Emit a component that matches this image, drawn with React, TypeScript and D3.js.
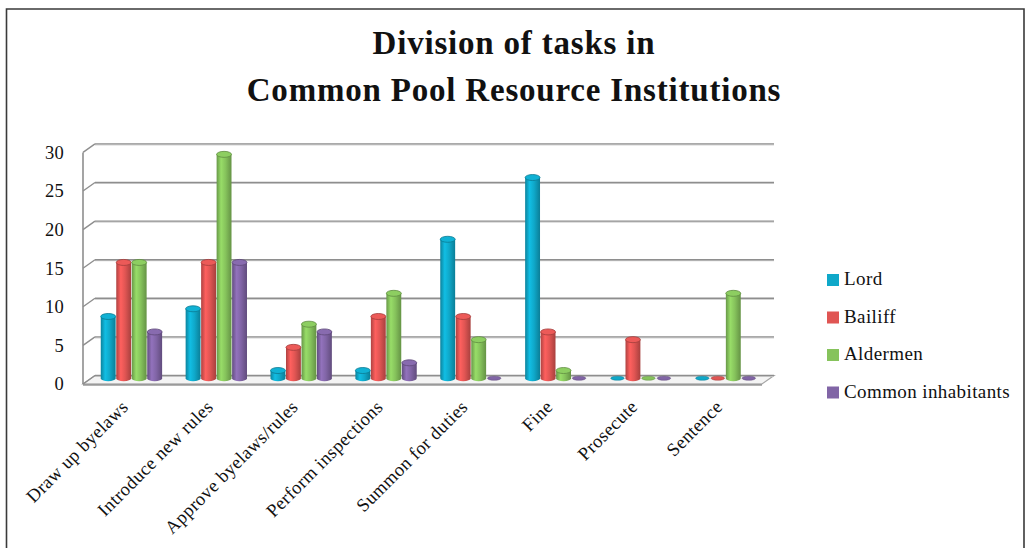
import React from "react";
import * as d3 from "d3";

// Task categories along the floor of the chart
const tasks = [
  "Draw up byelaws",
  "Introduce new rules",
  "Approve byelaws/rules",
  "Perform inspections",
  "Summon for duties",
  "Fine",
  "Prosecute",
  "Sentence",
];

// Actors (one cylinder per actor in every task group)
const actors = ["Lord", "Bailiff", "Aldermen", "Common inhabitants"];

// Number of institutions assigning each task to each actor
const lordValues = [8, 9, 1, 1, 18, 26, 0, 0];
const bailiffValues = [15, 15, 4, 8, 8, 6, 5, 0];
const aldermenValues = [15, 29, 7, 11, 5, 1, 0, 11];
const commonValues = [6, 15, 6, 2, 0, 0, 0, 0];

const yTicks = [0, 5, 10, 15, 20, 25, 30];

const seriesValues = [lordValues, bailiffValues, aldermenValues, commonValues];
const colors = ["#0fa8c9", "#e05553", "#86c35c", "#8165a6"];

const W = 1026;
const H = 548;
const FONT = "'Liberation Serif', 'Times New Roman', serif";

// Front plane of the 3D plot box and the depth offset of the back wall
const frontLeft = 83;
const frontRight = 762;
const depthX = 12;
const depthY = -8.5;

export default function App() {
  const x = d3
    .scaleBand<string>()
    .domain(tasks)
    .range([frontLeft, frontRight])
    .paddingInner(0.27)
    .paddingOuter(0.135);
  const xs = d3
    .scaleBand<string>()
    .domain(actors)
    .range([0, x.bandwidth()]);
  const y = d3.scaleLinear().domain([0, 30]).range([384, 152.4]);

  const groupCenter = (t: string) => (x(t) as number) + x.bandwidth() / 2;
  const bw = xs.bandwidth();
  const ry = 3;

  const backLeft = frontLeft + depthX;
  const backRight = frontRight + depthX;

  return (
    <svg
      width={W}
      height={H}
      style={{ position: "absolute", left: 0, top: 0, background: "#fff" }}
      fontFamily={FONT}
    >
      <defs>
        {colors.map((c, i) => {
          const base = d3.color(c)!;
          return (
            <linearGradient key={i} id={`cyl${i}`} x1="0" x2="1" y1="0" y2="0">
              <stop offset="0" stopColor={base.darker(0.7).formatHex()} />
              <stop offset="0.3" stopColor={base.brighter(0.35).formatHex()} />
              <stop offset="0.6" stopColor={c} />
              <stop offset="1" stopColor={base.darker(0.8).formatHex()} />
            </linearGradient>
          );
        })}
      </defs>

      {/* outer frame */}
      <path
        d={`M6.5,${H + 2} L6.5,9 L1024,9 L1024,${H + 2}`}
        fill="none"
        stroke="#3a3a3a"
        strokeWidth={1.6}
      />

      {/* title */}
      <text
        x={514}
        y={54}
        textAnchor="middle"
        fontSize={33}
        fontWeight="bold"
        letterSpacing={0.8}
        fill="#111"
      >
        Division of tasks in
      </text>
      <text
        x={514}
        y={101}
        textAnchor="middle"
        fontSize={33}
        fontWeight="bold"
        letterSpacing={0.8}
        fill="#111"
      >
        Common Pool Resource Institutions
      </text>

      {/* floor */}
      <path
        d={`M${frontLeft},${y(0)} L${frontRight},${y(0)} L${backRight},${
          y(0) + depthY
        } L${backLeft},${y(0) + depthY} Z`}
        fill="#f4f4f4"
        stroke="#a6a6a6"
        strokeWidth={1.2}
      />
      <line
        x1={frontLeft}
        x2={frontRight}
        y1={y(0) + 0.8}
        y2={y(0) + 0.8}
        stroke="#9a9a9a"
        strokeWidth={2}
      />

      {/* back wall gridlines and left wall */}
      {yTicks.map((t) => (
        <g key={t}>
          <line
            x1={backLeft}
            x2={backRight}
            y1={y(t) + depthY + 1}
            y2={y(t) + depthY + 1}
            stroke="#d4d4d4"
            strokeWidth={1.2}
          />
          <line
            x1={backLeft}
            x2={backRight}
            y1={y(t) + depthY}
            y2={y(t) + depthY}
            stroke="#8e8e8e"
            strokeWidth={1.4}
          />
          <line
            x1={frontLeft}
            x2={backLeft}
            y1={y(t)}
            y2={y(t) + depthY}
            stroke="#8e8e8e"
            strokeWidth={1.4}
          />
          <text
            x={64}
            y={y(t)}
            dy="0.35em"
            textAnchor="end"
            fontSize={18.5}
            letterSpacing={0.3}
            fill="#111"
          >
            {t}
          </text>
        </g>
      ))}
      <line
        x1={frontLeft}
        x2={frontLeft}
        y1={y(30)}
        y2={y(0)}
        stroke="#8e8e8e"
        strokeWidth={1.6}
      />

      {/* cylinders */}
      {tasks.map((t, ti) => (
        <g key={t}>
          {actors.map((a, ai) => {
            const v = seriesValues[ai][ti];
            const left = (x(t) as number) + (xs(a) as number) + depthX / 2;
            const baseY = y(0) + depthY / 2 - 1.5;
            const topY = y(v) + depthY / 2 - 1.5;
            const c = colors[ai];
            const dark = d3.color(c)!.darker(0.9).formatHex();
            if (v === 0) {
              return (
                <ellipse
                  key={a}
                  cx={left + bw / 2}
                  cy={baseY}
                  rx={bw / 2 - 1}
                  ry={2}
                  fill={c}
                  stroke={dark}
                  strokeWidth={0.5}
                />
              );
            }
            const r = bw / 2 - 0.3;
            const cx = left + bw / 2;
            return (
              <g key={a}>
                <path
                  d={`M${cx - r},${topY} L${cx - r},${baseY} A${r},${ry} 0 0 0 ${
                    cx + r
                  },${baseY} L${cx + r},${topY} Z`}
                  fill={`url(#cyl${ai})`}
                />
                <ellipse
                  cx={cx}
                  cy={topY}
                  rx={r}
                  ry={ry}
                  fill={d3.color(c)!.brighter(0.15).formatHex()}
                  stroke={dark}
                  strokeWidth={0.8}
                />
              </g>
            );
          })}
        </g>
      ))}

      {/* category labels */}
      {tasks.map((t) => (
        <text
          key={t}
          transform={`translate(${groupCenter(t) + 4},${408}) rotate(-45)`}
          textAnchor="end"
          fontSize={18.5}
          letterSpacing={0.4}
          fill="#111"
        >
          {t}
        </text>
      ))}

      {/* legend */}
      {actors.map((a, i) => (
        <g key={a} transform={`translate(827,${274 + i * 37.5})`}>
          <rect width={12} height={12} fill={colors[i]} />
          <text x={17} y={11} fontSize={19} letterSpacing={0.4} fill="#111">
            {a}
          </text>
        </g>
      ))}
    </svg>
  );
}
